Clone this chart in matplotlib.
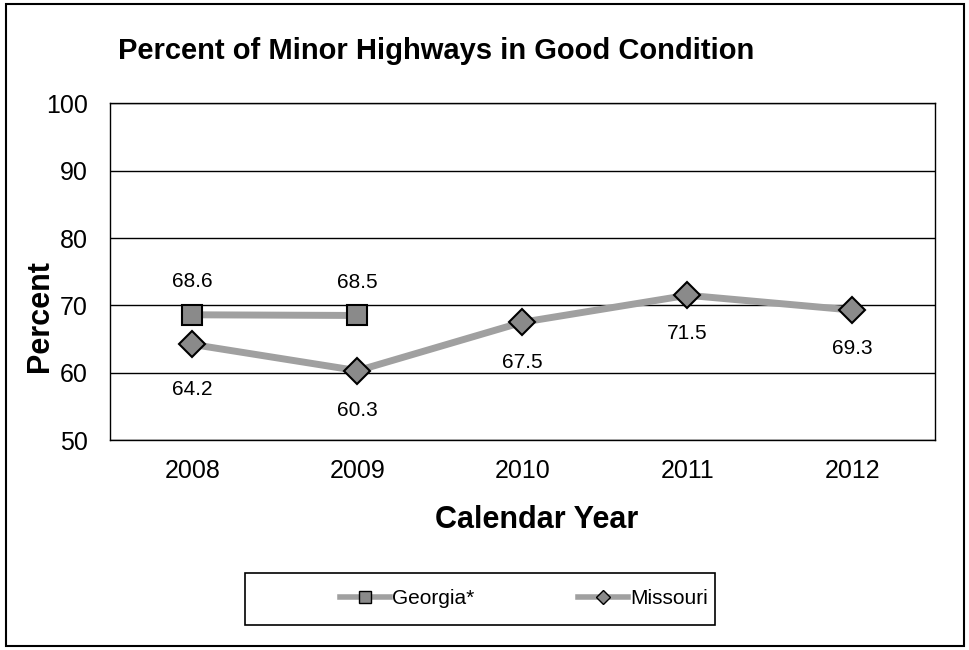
import matplotlib.pyplot as plt
from matplotlib.patches import Rectangle
from matplotlib.lines import Line2D

plt.rcParams['font.family'] = ['Liberation Sans', 'DejaVu Sans']

years = ['2008', '2009', '2010', '2011', '2012']
georgia = [68.6, 68.5]
missouri = [64.2, 60.3, 67.5, 71.5, 69.3]

# label offsets in pixels (Excel style placement)
ga_off = [33, 33]
mo_off = [-45, -40, -40, -38, -38]

fig = plt.figure(figsize=(9.7, 6.5), dpi=100)
fig.patches.append(Rectangle((0.006, 0.006), 0.988, 0.988, transform=fig.transFigure,
                             fill=False, edgecolor='black', linewidth=1.5))

ax = fig.add_axes([0.1134, 0.323, 0.8505, 0.518])
line_col = '#a0a0a0'
mark_col = '#8a8a8a'

x_ga = list(range(len(georgia)))
x_mo = list(range(len(missouri)))
ax.plot(x_ga, georgia, color=line_col, linewidth=5, marker='s', markersize=15,
        markerfacecolor=mark_col, markeredgecolor='black', markeredgewidth=1.5, zorder=3)
ax.plot(x_mo, missouri, color=line_col, linewidth=5, marker='D', markersize=13,
        markerfacecolor=mark_col, markeredgecolor='black', markeredgewidth=1.5, zorder=3)

for i, v in enumerate(georgia):
    ax.annotate(f'{v:.1f}', (i, v), xytext=(0, ga_off[i] * 0.72), textcoords='offset points',
                ha='center', va='center', fontsize=15)
for i, v in enumerate(missouri):
    ax.annotate(f'{v:.1f}', (i, v), xytext=(0, mo_off[i] * 0.72), textcoords='offset points',
                ha='center', va='center', fontsize=15)

ax.set_xlim(-0.5, len(years) - 0.5)
ax.set_ylim(50, 100)
ax.set_yticks(range(50, 101, 10))
ax.set_xticks(x_mo)
ax.set_xticklabels(years)
ax.tick_params(axis='both', length=0, labelsize=18)
ax.tick_params(axis='x', pad=14)
ax.tick_params(axis='y', pad=16)
ax.yaxis.grid(True, color='black', linewidth=1)
ax.set_axisbelow(True)
for s in ax.spines.values():
    s.set_linewidth(1)
    s.set_color('black')

fig.text(0.45, 0.922, 'Percent of Minor Highways in Good Condition', ha='center', va='center',
         fontsize=21, fontweight='bold')
fig.text(0.041, 0.514, 'Percent', rotation=90, ha='center', va='center', fontsize=22, fontweight='bold')
fig.text(0.553, 0.2, 'Calendar Year', ha='center', va='center', fontsize=22, fontweight='bold')

fig.patches.append(Rectangle((0.2526, 0.0385), 0.485, 0.08, transform=fig.transFigure,
                             fill=False, edgecolor='black', linewidth=1.2))
handles = [
    Line2D([], [], color=line_col, linewidth=4, marker='s', markersize=9,
           markerfacecolor=mark_col, markeredgecolor='black'),
    Line2D([], [], color=line_col, linewidth=4, marker='D', markersize=7,
           markerfacecolor=mark_col, markeredgecolor='black'),
]
fig.legend(handles, ['Georgia*', 'Missouri'], loc='center', bbox_to_anchor=(0.54, 0.0785),
           ncol=2, frameon=False, fontsize=15, handlelength=2.4, handletextpad=0.1,
           columnspacing=5)

fig.savefig('out.png', dpi=100)
